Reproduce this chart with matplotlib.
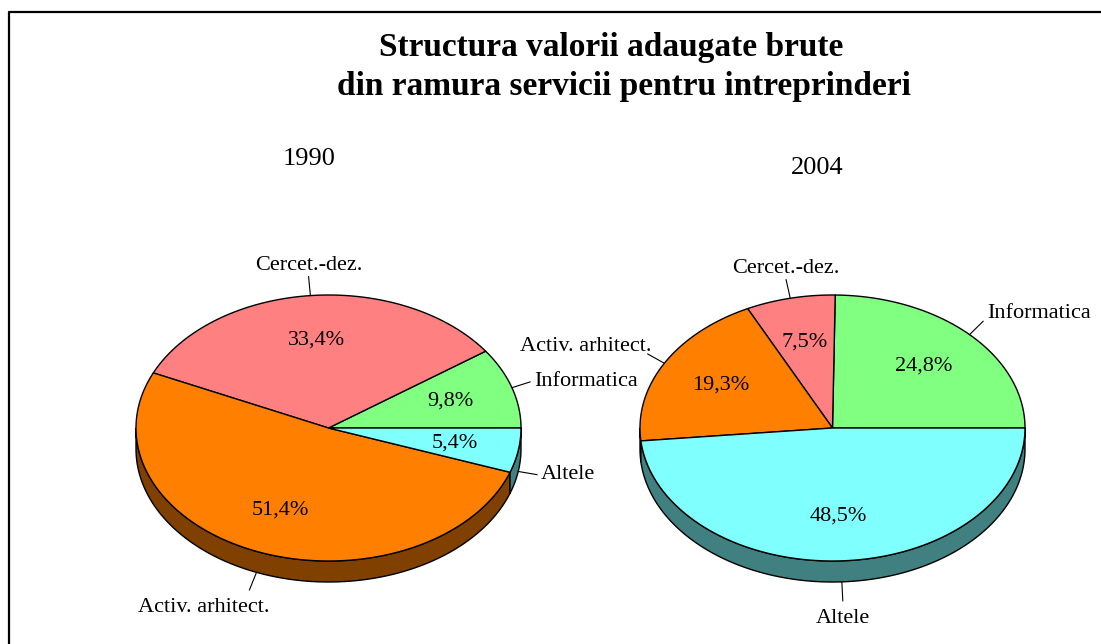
import numpy as np
import matplotlib
matplotlib.use("Agg")
import matplotlib.pyplot as plt
from matplotlib.patches import Polygon

# data
categories = ["Informatica", "Cercet.-dez.", "Activ. arhitect.", "Altele"]
years = ["1990", "2004"]
share_1990 = [9.8, 33.4, 51.4, 5.4]
share_2004 = [24.8, 7.5, 19.3, 48.5]
pct_labels_1990 = ["9,8%", "33,4%", "51,4%", "5,4%"]
pct_labels_2004 = ["24,8%", "7,5%", "19,3%", "48,5%"]

top_colors = ["#80FF80", "#FF8080", "#FF8000", "#80FFFF"]
side_colors = ["#408040", "#804040", "#804000", "#408080"]

plt.rcParams['font.family'] = ['Liberation Serif', 'DejaVu Serif']

W, H = 1101, 644
fig = plt.figure(figsize=(W / 100, H / 100), dpi=100)
ax = fig.add_axes([0, 0, 1, 1])
ax.set_xlim(0, W)
ax.set_ylim(H, 0)
ax.axis('off')

# frame (only top and left edges are visible in the picture)
ax.plot([9, 9, W], [H, 12, 12], color='black', lw=1.6, solid_capstyle='butt')

rx, ry, depth = 192.5, 133, 21


def pt(cx, cy, t, dy=0):
    t = np.radians(t)
    return cx + rx * np.cos(t), cy - ry * np.sin(t) + dy


def arc(cx, cy, a, b, dy=0):
    ts = np.linspace(a, b, max(int(abs(b - a)), 2) + 1)
    return [pt(cx, cy, t, dy) for t in ts]


def draw_pie(cx, cy, values, pct_labels, nudges):
    total = sum(values)
    bounds = np.concatenate([[0], np.cumsum(values) / total * 360])
    # sides first (front half only)
    for i in range(len(values)):
        a, b = max(bounds[i], 180), min(bounds[i + 1], 360)
        if b > a:
            poly = arc(cx, cy, a, b) + arc(cx, cy, b, a, depth)
            ax.add_patch(Polygon(poly, closed=True, fc=side_colors[i],
                                 ec='black', lw=1.0, joinstyle='round'))
    for i in range(len(values)):
        a, b = bounds[i], bounds[i + 1]
        poly = [(cx, cy)] + arc(cx, cy, a, b)
        ax.add_patch(Polygon(poly, closed=True, fc=top_colors[i],
                             ec='black', lw=1.0, joinstyle='round'))
    for i in range(len(values)):
        a, b = bounds[i], bounds[i + 1]
        m = (a + b) / 2
        c, s = np.cos(np.radians(m)), np.sin(np.radians(m))
        # percentage inside
        ix, iy = cx + 0.665 * rx * c, cy - 0.665 * ry * s
        ax.text(ix, iy, pct_labels[i], ha='center', va='center', fontsize=16)
        # leader line and category name
        ex, ey = pt(cx, cy, m, depth if s < 0 else 0)
        lx, ly = ex + 19 * c, ey - 19 * s
        ax.plot([ex, lx], [ey, ly], color='black', lw=0.8)
        if abs(c) > 0.3 and s > -0.6:
            ha = 'left' if c > 0 else 'right'
            tx = lx + (4 if c > 0 else -4)
            if s > 0.4:
                va, ty = 'bottom', ly + 2
            else:
                va, ty = 'center', ly
        else:
            ha, tx = 'center', lx
            va, ty = ('bottom', ly - 2) if s > 0 else ('top', ly + 8)
        ndx, ndy = nudges.get(categories[i], (0, 0))
        ax.text(tx + ndx, ty + ndy, categories[i], ha=ha, va=va, fontsize=16)


draw_pie(328.5, 428, share_1990, pct_labels_1990,
         {"Activ. arhitect.": (-46, 0)})
draw_pie(832.5, 428, share_2004, pct_labels_2004,
         {"Activ. arhitect.": (8, 0)})

ax.text(611, 47, "Structura valorii adaugate brute", ha='center', va='center',
        fontsize=24, fontweight='bold')
ax.text(624, 86, "din ramura servicii pentru intreprinderi", ha='center',
        va='center', fontsize=24, fontweight='bold')
ax.text(309, 159, years[0], ha='center', va='center', fontsize=19)
ax.text(817, 168, years[1], ha='center', va='center', fontsize=19)

fig.savefig("out.png", dpi=100)
